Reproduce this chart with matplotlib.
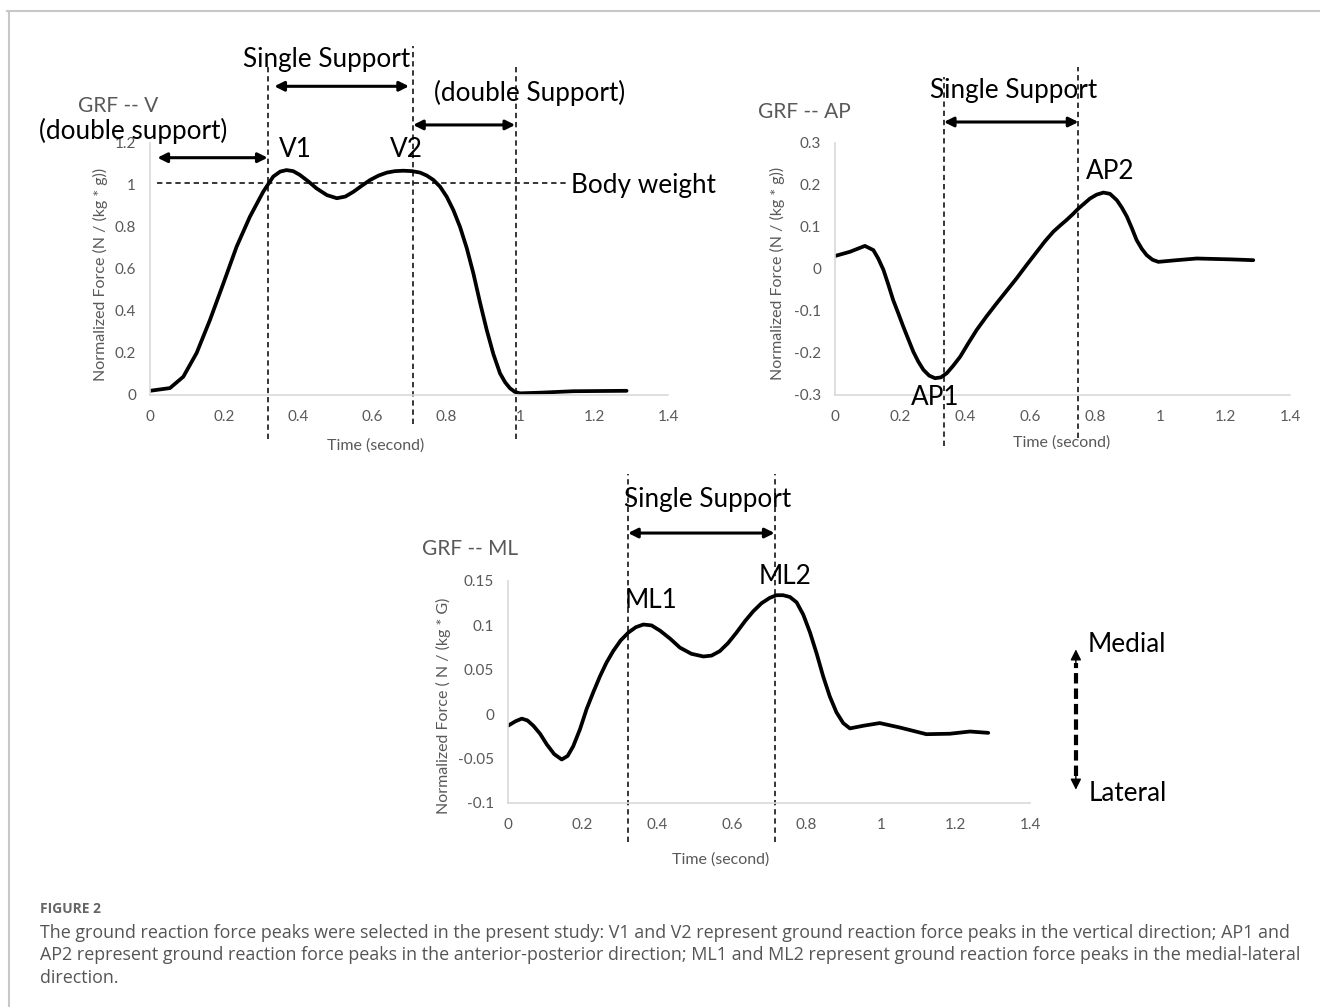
import matplotlib
matplotlib.use("Agg")
import matplotlib.pyplot as plt
from matplotlib.lines import Line2D

plt.rcParams["font.family"] = ["Lato", "DejaVu Sans"]

# vertical GRF
v_time = [0, 0.054, 0.09, 0.126, 0.162, 0.198, 0.234, 0.27, 0.306, 0.333, 0.352, 0.369, 0.387,
          0.405, 0.428, 0.45, 0.478, 0.505, 0.528, 0.55, 0.572, 0.595, 0.618, 0.64, 0.662, 0.685,
          0.708, 0.73, 0.748, 0.766, 0.784, 0.802, 0.82, 0.838, 0.856, 0.874, 0.892, 0.91, 0.928,
          0.946, 0.96, 0.973, 0.986, 1.0, 1.054, 1.144, 1.288]
v_force = [0.02, 0.033, 0.087, 0.2, 0.357, 0.53, 0.706, 0.849, 0.968, 1.04, 1.064, 1.071, 1.066,
           1.048, 1.017, 0.984, 0.952, 0.937, 0.945, 0.968, 0.996, 1.024, 1.045, 1.059, 1.066, 1.068,
           1.066, 1.059, 1.045, 1.024, 0.992, 0.944, 0.88, 0.80, 0.70, 0.579, 0.44, 0.31, 0.195,
           0.103, 0.06, 0.032, 0.015, 0.008, 0.011, 0.018, 0.02]

# anterior-posterior GRF
ap_time = [0, 0.046, 0.092, 0.118, 0.133, 0.149, 0.164, 0.179, 0.195, 0.21, 0.226, 0.241, 0.256,
           0.272, 0.29, 0.308, 0.326, 0.344, 0.364, 0.385, 0.41, 0.436, 0.466, 0.497, 0.528,
           0.559, 0.59, 0.621, 0.646, 0.672, 0.692, 0.713, 0.731, 0.749, 0.767, 0.785, 0.805,
           0.826, 0.846, 0.867, 0.882, 0.898, 0.913, 0.928, 0.944, 0.959, 0.977, 0.995, 1.051,
           1.113, 1.215, 1.287]
ap_force = [0.031, 0.041, 0.055, 0.045, 0.025, -0.002, -0.037, -0.074, -0.106, -0.137, -0.168,
            -0.197, -0.22, -0.24, -0.254, -0.26, -0.258, -0.248, -0.23, -0.209, -0.177, -0.145,
            -0.113, -0.082, -0.052, -0.022, 0.01, 0.041, 0.066, 0.089, 0.103, 0.117, 0.13, 0.144,
            0.156, 0.168, 0.177, 0.182, 0.179, 0.164, 0.147, 0.125, 0.098, 0.069, 0.048, 0.033,
            0.022, 0.017, 0.021, 0.025, 0.023, 0.021]

# medial-lateral GRF
ml_time = [0, 0.02, 0.037, 0.052, 0.068, 0.086, 0.104, 0.124, 0.144, 0.16, 0.175, 0.193, 0.211,
           0.229, 0.247, 0.264, 0.282, 0.302, 0.323, 0.343, 0.363, 0.385, 0.408, 0.435, 0.461,
           0.492, 0.524, 0.546, 0.568, 0.59, 0.613, 0.636, 0.658, 0.68, 0.702, 0.72, 0.738, 0.756,
           0.774, 0.792, 0.81, 0.828, 0.845, 0.863, 0.881, 0.899, 0.917, 0.953, 0.997, 1.051,
           1.122, 1.185, 1.239, 1.288]
ml_force = [-0.013, -0.008, -0.005, -0.007, -0.013, -0.022, -0.034, -0.045, -0.051, -0.047,
            -0.036, -0.017, 0.006, 0.025, 0.043, 0.058, 0.071, 0.083, 0.092, 0.098, 0.101, 0.1,
            0.094, 0.085, 0.075, 0.068, 0.065, 0.066, 0.071, 0.08, 0.092, 0.105, 0.116, 0.125,
            0.131, 0.134, 0.134, 0.132, 0.126, 0.112, 0.092, 0.068, 0.043, 0.02, 0.002, -0.01,
            -0.016, -0.013, -0.010, -0.015, -0.0225, -0.022, -0.0195, -0.021]

x_ticks = [0, 0.2, 0.4, 0.6, 0.8, 1.0, 1.2, 1.4]
v_yticks = [0, 0.2, 0.4, 0.6, 0.8, 1.0, 1.2]
ap_yticks = [-0.3, -0.2, -0.1, 0, 0.1, 0.2, 0.3]
ml_yticks = [-0.1, -0.05, 0, 0.05, 0.1, 0.15]

v_events = [0.318, 0.711, 0.99]
ap_events = [0.335, 0.749]
ml_events = [0.322, 0.715]

W, H = 1320, 1007
GRAY = "#595959"
SPINE = "#d9d9d9"
BIG = 18.8


def px_axes(left, right, top, bottom):
    return [left / W, 1 - bottom / H, (right - left) / W, (bottom - top) / H]


def style(ax, yticks, ylim, ylabel, xlab_pos, ylab_pos):
    ax.set_xlim(0, 1.4)
    ax.set_ylim(*ylim)
    ax.set_xticks(x_ticks)
    ax.set_yticks(yticks)
    ax.set_xticklabels([f"{round(t, 2):g}" for t in x_ticks])
    ax.set_yticklabels([f"{round(t, 2):g}" for t in yticks])
    for s in ["top", "right"]:
        ax.spines[s].set_visible(False)
    for s in ["left", "bottom"]:
        ax.spines[s].set_color(SPINE)
        ax.spines[s].set_linewidth(1.2)
    ax.tick_params(length=0, colors=GRAY, labelsize=11)
    ax.tick_params(axis="x", pad=11)
    ax.tick_params(axis="y", pad=10)
    ax.set_xlabel("Time (second)", fontsize=11.5, color=GRAY)
    ax.set_ylabel(ylabel, fontsize=11.5, color=GRAY)
    ax.xaxis.set_label_coords(*xlab_pos)
    ax.xaxis.label.set_va("center")
    ax.yaxis.set_label_coords(*ylab_pos)
    ax.yaxis.label.set_va("center")
    ax.set_facecolor("none")


def curve(ax, t, f):
    ax.plot(t, f, color="black", lw=2.7, solid_joinstyle="round", solid_capstyle="round")


def vline(ax, t, y0, y1):
    ax.plot([t, t], [y0, y1], color="black", lw=1.1, dashes=(3.5, 2.5), clip_on=False)


def darrow(ax, t0, t1, y):
    ax.annotate("", xy=(t1, y), xytext=(t0, y),
                arrowprops=dict(arrowstyle="<|-|>", color="black", lw=2.2,
                                mutation_scale=14, shrinkA=0, shrinkB=0),
                annotation_clip=False)


fig = plt.figure(figsize=(W / 100, H / 100), dpi=100)

# ---- vertical panel
ax1 = fig.add_axes(px_axes(150, 668, 143, 395))
curve(ax1, v_time, v_force)
style(ax1, v_yticks, (0, 1.2), "Normalized Force (N / (kg * g))", (0.436, -51 / 252), (-50 / 518, 0.478))
vline(ax1, v_events[0], -0.21, 1.56)
vline(ax1, v_events[1], -0.14, 1.66)
vline(ax1, v_events[2], -0.21, 1.56)
ax1.plot([0.02, 1.132], [1.01, 1.01], color="black", lw=1.1, dashes=(3.5, 2.5))
darrow(ax1, 0.02, v_events[0], 1.13)
darrow(ax1, 0.336, 0.70, 1.47)
darrow(ax1, v_events[1], 0.987, 1.286)
ax1.text(-0.195, 1.376, "GRF -- V", color=GRAY, fontsize=15, va="center")
ax1.text(-0.30, 1.257, "(double support)", fontsize=BIG, va="center")
ax1.text(0.476, 1.60, "Single Support", fontsize=BIG, ha="center", va="center")
ax1.text(1.027, 1.438, "(double Support)", fontsize=BIG, ha="center", va="center")
ax1.text(0.392, 1.167, "V1", fontsize=BIG, ha="center", va="center")
ax1.text(0.692, 1.167, "V2", fontsize=BIG, ha="center", va="center")
ax1.text(1.138, 1.0, "Body weight", fontsize=BIG, va="center")

# ---- anterior-posterior panel
ax2 = fig.add_axes(px_axes(835, 1290, 143, 395))
curve(ax2, ap_time, ap_force)
style(ax2, ap_yticks, (-0.3, 0.3), "Normalized Force (N / (kg * g))", (0.499, -48 / 252), (-58 / 455, 0.484))
vline(ax2, ap_events[0], -0.421, 0.457)
vline(ax2, ap_events[1], -0.402, 0.481)
darrow(ax2, ap_events[0], ap_events[1], 0.35)
ax2.text(-0.237, 0.374, "GRF -- AP", color=GRAY, fontsize=15, va="center")
ax2.text(0.548, 0.426, "Single Support", fontsize=BIG, ha="center", va="center")
ax2.text(0.846, 0.231, "AP2", fontsize=BIG, ha="center", va="center")
ax2.text(0.308, -0.307, "AP1", fontsize=BIG, ha="center", va="center")

# ---- medial-lateral panel
ax3 = fig.add_axes(px_axes(508, 1030, 581, 803))
curve(ax3, ml_time, ml_force)
style(ax3, ml_yticks, (-0.1, 0.15), "Normalized Force ( N / (kg * G)", (0.408, -57 / 222), (-65 / 522, 0.437))
for t in ml_events:
    vline(ax3, t, -0.144, 0.27)
darrow(ax3, ml_events[0], ml_events[1], 0.204)
ax3.text(-0.23, 0.186, "GRF -- ML", color=GRAY, fontsize=15, va="center")
ax3.text(0.534, 0.242, "Single Support", fontsize=BIG, ha="center", va="center")
ax3.text(0.383, 0.128, "ML1", fontsize=BIG, ha="center", va="center")
ax3.text(0.743, 0.155, "ML2", fontsize=BIG, ha="center", va="center")
ax3.plot([1.523, 1.523], [-0.070, 0.058], color="black", lw=3, dashes=(2.5, 1.2), clip_on=False)
ax3.annotate("", xy=(1.523, 0.073), xytext=(1.523, 0.053),
             arrowprops=dict(arrowstyle="-|>", color="black", lw=1, mutation_scale=16, shrinkA=0, shrinkB=0),
             annotation_clip=False)
ax3.annotate("", xy=(1.523, -0.085), xytext=(1.523, -0.065),
             arrowprops=dict(arrowstyle="-|>", color="black", lw=1, mutation_scale=16, shrinkA=0, shrinkB=0),
             annotation_clip=False)
ax3.text(1.555, 0.078, "Medial", fontsize=BIG, va="center")
ax3.text(1.558, -0.089, "Lateral", fontsize=BIG, va="center")

# frame around the figure
fig.add_artist(Line2D([7 / W, 1], [1 - 11 / H, 1 - 11 / H], color="#c8c8c8", lw=1.5))
fig.add_artist(Line2D([9 / W, 9 / W], [0, 1 - 11 / H], color="#c8c8c8", lw=1.5))

# caption
cap = ["The ground reaction force peaks were selected in the present study: V1 and V2 represent ground reaction force peaks in the vertical direction; AP1 and",
       "AP2 represent ground reaction force peaks in the anterior-posterior direction; ML1 and ML2 represent ground reaction force peaks in the medial-lateral",
       "direction."]
fig.text(40 / W, 1 - 909 / H, "FIGURE 2", fontsize=10, fontweight="bold", color="#666666",
         family=["Open Sans", "DejaVu Sans"], va="center")
for i, line in enumerate(cap):
    fig.text(40 / W, 1 - (933 + 22.5 * i) / H, line, fontsize=12.85, color="#555555",
             family=["Open Sans", "DejaVu Sans"], va="center")

fig.savefig("out.png", dpi=100)
